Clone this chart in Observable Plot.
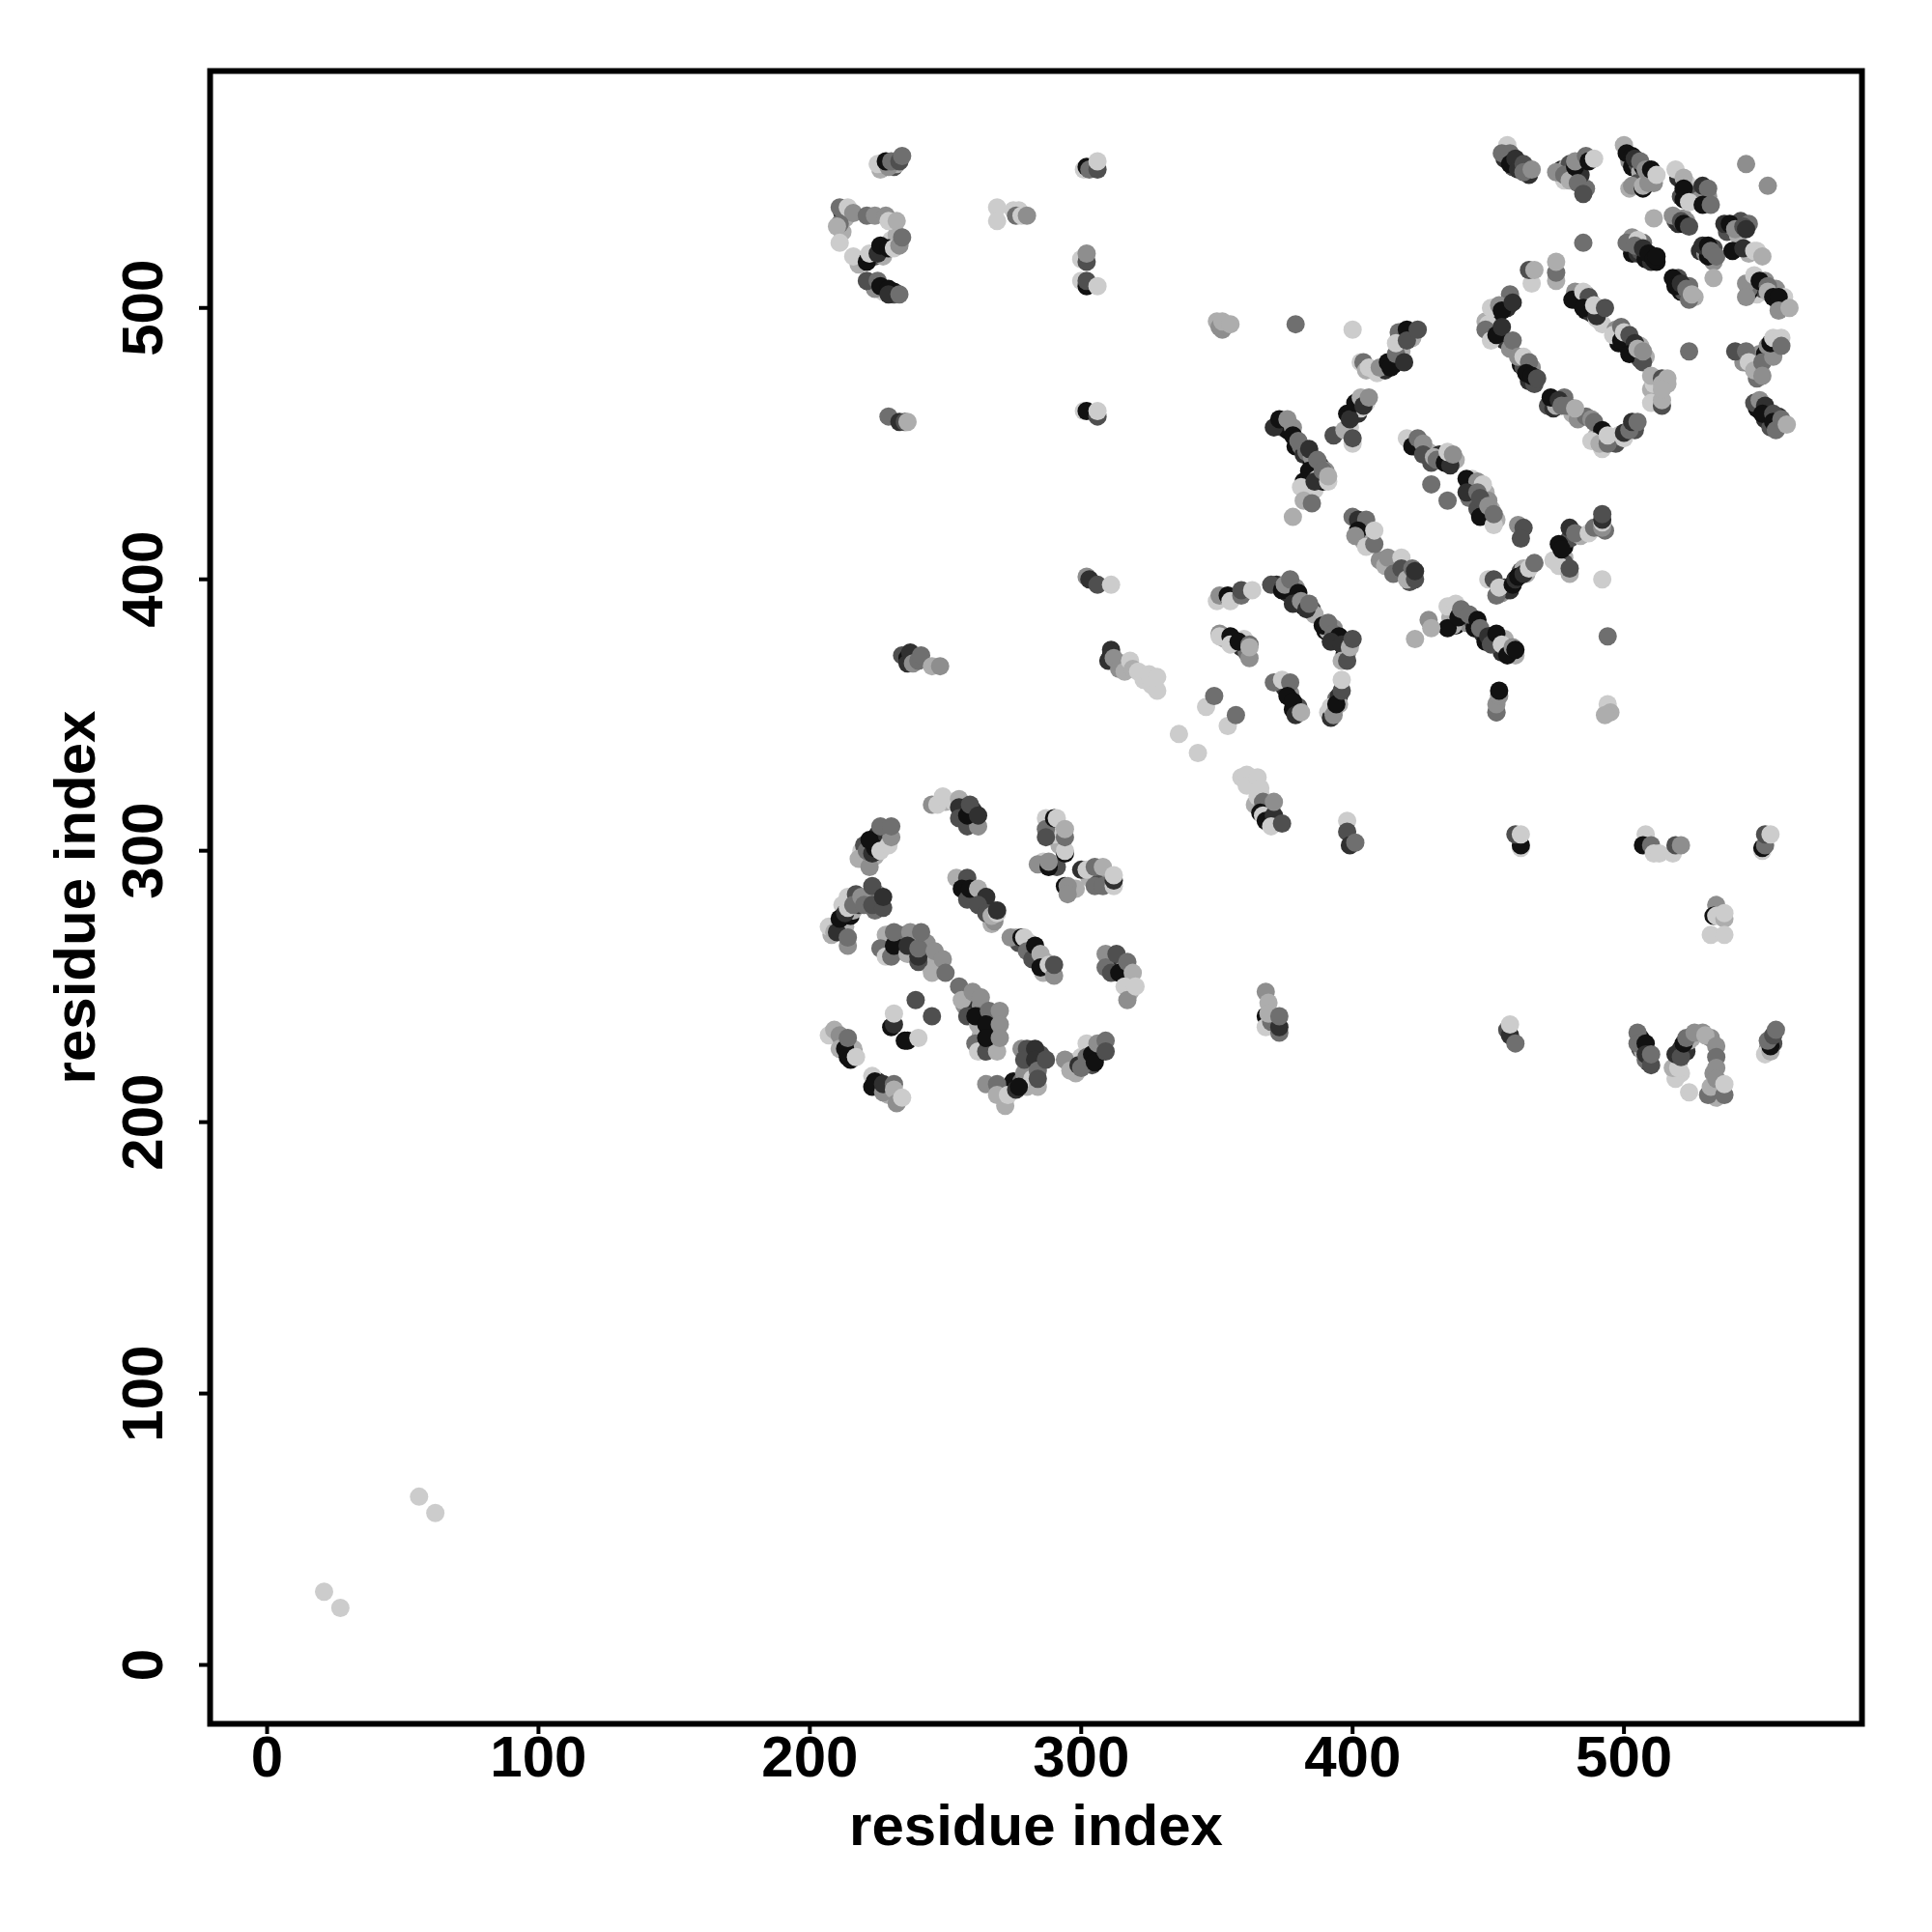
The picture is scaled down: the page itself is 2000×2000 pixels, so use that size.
<!DOCTYPE html>
<html>
<head>
<meta charset="utf-8">
<script src="https://cdn.jsdelivr.net/npm/d3@7"></script>
<script src="https://cdn.jsdelivr.net/npm/@observablehq/plot@0.6"></script>
<style>
html,body{margin:0;padding:0;background:#fff}
svg{display:block;font-family:"Liberation Sans",Arial,sans-serif}
</style>
</head>
<body>
<div id="chart"></div>
<script>
// Each contact: [residue i, residue j, shade level 1 (dark) .. 7 (light)]
const tickValues = [0, 100, 200, 300, 400, 500];
const axisTitle = "residue index";

const lowLeft = [[21,27,7],[27,21,7],[56,62,7],[62,56,7]];
const c1 = [[218,297,6],[222,294,5],[221,300,4],[223,299,2],[224,301,1],[222,304,1],[226,300,7],[229,302,7],[230,305,5],[226,309,4],[230,309,4]];
const c2 = [[245,317,5],[247,317,7],[249,320,7],[255,319,6],[255,316,2],[255,312,3],[258,309,3],[262,309,5],[258,313,1],[259,317,3],[262,313,2]];
const c3 = [[287,312,7],[287,308,4],[287,305,3],[290,312,1],[291,312,7],[294,299,1],[294,300,7],[294,305,4],[294,308,6],[284,295,5],[288,294,1],[288,296,5],[294,287,1],[295,287,5],[295,284,5],[300,293,2],[302,293,7],[305,294,4],[308,294,6],[305,287,4],[308,287,4],[312,287,7],[312,289,2],[312,291,7]];
const c4 = [[254,290,6],[258,290,3],[256,286,1],[258,282,3],[259,286,1],[262,286,6],[265,283,2],[262,280,3],[265,277,3],[268,274,5],[267,276,6],[269,277,7],[269,278,2]];
const c5 = [[274,268,5],[278,268,1],[279,268,7],[280,263,4],[282,260,3],[283,265,1],[285,262,6],[285,257,1],[288,258,7],[290,254,5],[290,258,3]];
const c6 = [[309,262,5],[309,257,4],[311,255,3],[313,262,3],[314,255,1],[317,259,4],[319,255,6],[316,250,7],[317,245,5],[320,250,7]];
const c7 = [[207,272,7],[209,270,6],[210,270,2],[214,265,5],[214,268,4],[211,275,1],[213,277,2],[214,279,7],[214,283,7],[217,284,3],[216,280,4],[219,283,5],[220,280,4],[223,280,3],[223,287,3],[227,279,3],[227,283,2]];
const c8 = [[228,269,6],[226,264,4],[228,261,7],[230,261,4],[231,265,1],[231,270,4],[236,262,6],[237,270,5],[236,265,2],[240,259,3],[240,261,2],[240,264,4],[241,270,4],[246,263,5],[245,255,6],[249,260,5],[250,255,4]];
const c9 = [[255,250,4],[256,245,6],[260,248,5],[263,246,5],[258,239,3],[262,239,3],[262,236,6],[261,239,1],[266,241,4],[265,236,1],[270,241,5],[270,236,5],[261,229,4],[262,226,7],[265,226,3],[269,226,6],[265,231,1],[270,231,5]];
const c10 = [[239,245,3],[245,239,3],[230,235,1],[231,236,2],[231,240,7],[235,230,1],[236,230,1],[240,231,7]];
const c11 = [[207,232,7],[209,234,6],[211,232,5],[211,227,6],[213,227,1],[214,231,4],[214,224,1],[215,223,1],[217,224,7]];
const c12 = [[223,217,7],[223,213,1],[224,215,1],[227,211,5],[227,214,2],[231,214,4],[231,212,6],[232,207,5],[234,209,7]];
const c13 = [[265,214,5],[269,214,4],[269,210,6],[272,206,6],[273,210,7],[276,212,2],[277,213,1],[278,227,5],[280,227,3],[279,223,3],[283,227,2],[283,223,2],[284,219,4],[284,213,6],[284,216,3],[287,223,3]];
const c14 = [[294,223,5],[296,219,6],[299,221,2],[300,220,4],[302,229,7],[302,224,4],[304,225,1],[305,222,1],[306,229,5],[309,230,4],[309,226,3]];
const c15 = [[225,553,7],[229,552,5],[228,554,1],[230,554,4],[233,554,3],[234,556,4]];
const c16 = [[211,537,4],[214,537,7],[216,535,5],[211,531,4],[210,530,6],[211,524,7],[216,519,7],[221,534,4],[224,534,5],[228,534,5],[229,532,7],[232,532,6],[221,517,1],[222,520,7],[225,520,2],[226,523,1],[229,522,1],[231,522,7],[233,523,5],[234,526,4]];
const c17 = [[221,510,3],[225,510,4],[226,508,1],[229,507,1],[229,505,2],[233,505,4]];
const c18 = [[269,537,7],[269,532,7],[275,536,7],[277,536,7],[276,534,4],[278,534,7],[280,534,5]];
const c19 = [[301,551,7],[302,552,1],[303,551,4],[306,551,3],[306,554,7]];
const c20 = [[300,518,7],[302,517,3],[302,520,5],[300,510,7],[302,508,1],[302,510,3],[306,508,7]];
const c21 = [[229,460,4],[233,458,2],[235,458,3],[236,458,6]];
const c22 = [[301,462,7],[302,462,1],[306,460,3],[306,462,7]];
const c23 = [[302,401,5],[303,400,2],[306,398,3],[311,398,7]];
const c24 = [[234,372,3],[236,371,1],[236,369,2],[237,373,2],[238,369,5],[240,370,4],[241,372,4],[245,368,6],[248,368,5]];
const c25 = [[310,370,2],[311,374,2],[312,371,5],[314,367,5],[316,366,6],[318,370,7],[319,367,6],[321,366,7],[323,363,7],[325,365,7],[326,361,7],[328,359,7],[328,364,7]];
const c26 = [[336,343,7],[343,336,7],[346,353,7],[349,357,4],[354,346,7],[357,350,4]];
const c27 = [[359,327,7],[361,328,7],[361,324,7],[365,327,7],[366,323,7],[365,320,7],[367,318,4],[366,314,1],[367,313,7],[368,311,1],[371,313,2],[371,318,5],[370,309,7],[374,310,3]];
const c28 = [[398,311,7],[398,307,3],[399,302,2],[401,303,4]];
const c29 = [[462,301,7],[462,302,1],[460,306,3],[462,306,7]];
const c30 = [[508,306,7],[507,302,1],[510,302,4],[511,299,7],[513,299,7],[518,299,7],[519,302,3],[521,302,5]];
const c31 = [[551,300,7],[551,301,1],[552,302,4],[552,306,3],[554,306,7]];
const c32 = [[534,280,5],[533,276,1],[534,276,7],[537,275,6],[537,277,7],[532,269,7],[537,269,7]];
const c33 = [[368,248,5],[369,244,6],[368,239,1],[368,235,7],[370,237,4],[369,240,6],[373,233,4],[373,235,2],[373,239,4]];
const c34 = [[457,234,3],[458,232,2],[458,236,7],[460,229,4]];
const c35 = [[505,233,4],[505,229,4],[508,229,1],[508,225,2],[510,221,3],[510,225,4]];
const c36 = [[519,216,7],[524,211,7],[518,220,6],[520,220,7],[519,225,2],[521,224,3],[522,229,1],[523,231,4],[526,233,5],[530,232,6],[531,210,4],[532,213,6],[537,210,4],[534,228,5],[534,224,4],[534,220,5],[534,216,5],[537,214,7]];
const c37 = [[552,225,7],[554,226,6],[554,228,1],[553,230,4],[555,232,3],[556,234,4]];
const c39 = [[457,560,7],[455,557,4],[458,557,4],[458,553,1],[460,555,2],[461,551,2],[463,553,3],[463,550,4],[466,551,5]];
const c40 = [[475,550,5],[478,549,4],[480,547,6],[482,552,1],[482,554,5],[486,556,4],[487,554,1],[489,555,7],[483,546,4],[485,542,3]];
const c41 = [[500,560,6],[501,557,1],[503,556,1],[504,555,2],[506,554,4],[503,545,5],[507,544,1],[507,545,6],[509,546,5],[508,551,5],[510,551,1],[512,549,7]];
const c42 = [[519,551,7],[522,548,6],[522,544,1],[522,540,1],[524,539,7]];
const c43 = [[529,545,2],[531,544,4],[529,538,1],[532,538,4]];
const c44 = [[545,553,5],[553,545,5],[511,533,6]];
const c45 = [[518,534,5],[521,532,3],[522,531,1],[524,530,3]];
const c46 = [[537,531,2],[539,531,1],[541,529,5],[544,530,3],[545,529,2]];
const c47 = [[529,523,2],[531,523,1],[532,521,4],[534,519,4]];
const c48 = [[540,521,1],[544,522,2],[548,521,7],[551,519,6],[485,524,4]];
const c49 = [[501,524,4],[505,525,7],[504,523,4],[507,522,2],[509,520,1],[511,518,1],[512,519,1]];
const c50 = [[518,511,1],[519,508,1],[521,509,2],[523,507,4],[524,503,4],[525,505,6],[533,511,6]];
const c51 = [[545,509,5],[545,504,5],[548,512,7],[550,510,1],[553,508,4],[553,506,6],[555,504,1],[557,504,1],[557,499,5],[561,500,6]];
const c52 = [[466,509,7],[465,514,3],[467,514,6],[475,510,6],[475,513,4],[475,517,6]];
const c53 = [[458,505,4],[451,500,7],[454,501,5],[455,499,1],[459,502,2]];
const c54 = [[450,494,7],[449,492,4],[451,488,7],[453,490,1],[455,493,2],[459,488,4]];
const c55 = [[461,482,5],[463,482,7],[465,480,4],[464,476,1],[466,475,1],[468,474,3]];
const c56 = [[473,467,1],[476,466,2],[477,464,4],[479,464,4],[482,463,6]];
const c57 = [[488,459,5],[489,458,4],[492,455,1],[488,451,7],[491,450,6],[494,450,4],[494,453,7],[500,452,7],[500,454,2],[502,455,4],[503,458,2],[505,458,4]];
const c58 = [[482,506,5],[481,503,1],[485,506,7],[487,504,3],[485,500,1],[490,496,7],[490,497,2],[489,501,7],[493,500,3]];
const c59 = [[496,490,7],[499,493,4],[499,488,1],[500,491,7],[502,490,3],[504,487,2],[502,483,1],[507,480,3],[505,485,6],[507,484,5]];
const c60 = [[510,475,6],[514,474,3],[514,472,6],[516,474,6],[510,465,7],[514,464,3],[514,466,6],[514,470,6],[524,484,4]];
const c61 = [[541,484,3],[545,484,4],[546,480,7],[548,477,6],[551,480,4],[551,475,5],[555,482,5],[554,487,1],[555,489,7],[558,489,7],[558,486,4]];
const c62 = [[548,465,3],[550,466,5],[552,464,2],[551,461,1],[555,461,3],[555,458,1],[556,455,4],[558,459,4],[560,457,6]];
const c63 = [[351,493,5],[352,495,6],[355,494,6],[379,494,4],[400,492,7]];
const c64 = [[403,480,7],[404,480,4],[405,477,6],[406,478,7],[408,477,7],[410,478,5],[413,480,1],[414,478,1],[416,483,4],[419,480,2],[417,491,4],[416,487,7],[420,492,1],[420,488,3],[424,492,3]];
const c65 = [[393,453,3],[397,455,6],[398,461,1],[399,459,2],[401,465,1],[403,467,6],[404,464,2],[406,467,5],[400,450,7],[400,452,3]];
const c66 = [[371,456,2],[373,459,1],[376,459,5],[378,453,1],[380,451,4],[382,436,1],[381,434,7],[384,448,2],[386,436,2],[387,444,4],[389,440,4],[391,436,7],[391,438,6]];
const c67 = [[378,423,6],[382,429,6],[385,428,4]];
const c68 = [[420,452,7],[422,449,1],[424,452,4],[426,450,5],[426,446,3],[430,445,6],[431,444,4],[434,443,1],[436,442,2],[435,447,7],[437,446,5]];
const c69 = [[429,435,4],[435,429,4]];
const c70 = [[442,437,1],[446,436,5],[448,435,7],[442,432,2],[446,432,4],[450,429,5]];
const c71 = [[447,423,1],[447,430,3],[450,427,5],[452,420,7],[452,424,4]];
const c72 = [[461,420,5],[463,419,3],[462,415,3]];
const c73 = [[400,423,4],[402,422,2],[405,422,4],[402,418,1],[401,416,5],[405,412,7],[408,413,4],[408,418,7]];
const c74 = [[412,405,6],[413,408,5],[418,408,7],[415,402,4],[418,404,3],[420,400,6],[422,404,4],[423,400,3],[423,403,2]];
const c75 = [[350,392,7],[351,394,5],[354,394,1],[355,392,7],[359,394,4],[359,396,3],[363,396,7]];
const c76 = [[370,398,3],[374,396,1],[375,398,5],[377,400,4],[380,395,1],[378,391,2],[381,392,5],[383,389,2],[384,391,4]];
const c77 = [[389,383,1],[391,384,4],[393,380,4],[395,379,1],[392,377,2],[396,376,2],[396,370,6],[398,370,3],[399,375,6],[400,378,3]];
const c78 = [[351,380,5],[351,379,7],[355,379,1],[355,376,7],[358,377,1],[362,371,5],[362,376,4],[362,375,6]];
const c79 = [[371,362,4],[374,363,7],[377,362,4],[376,357,1],[378,355,1],[379,350,2],[381,351,6]];
const c80 = [[392,349,2],[392,353,7],[393,350,5],[394,354,1],[396,359,3],[396,363,7]];
const c81 = [[453,351,6],[453,351,4],[453,354,5],[454,357,5],[454,359,1]];
const c82 = [[494,379,4],[492,400,7],[494,354,7],[495,351,6],[493,350,6]];
const c83 = [[435,390,7],[438,391,7],[437,383,6],[435,382,1],[439,386,1],[440,389,4],[443,387,4],[446,385,1],[447,382,4],[450,379,2],[451,376,3],[453,380,1],[455,376,7],[457,372,1],[459,375,5],[460,374,1]];
const c84 = [[428,385,5],[429,382,6],[423,378,6]];
const c85 = [[450,400,7],[452,400,3],[453,394,4],[454,397,7],[459,398,1],[460,400,2],[461,401,1],[463,402,2],[465,404,7],[467,406,4]];
const c86 = [[476,405,7],[480,402,6],[480,404,3],[476,413,1],[477,411,1],[480,419,2],[482,417,4],[487,417,7],[489,419,4],[492,419,5],[492,421,7],[492,422,2],[492,424,3]];

// Further contacts read inside the thick bands of the helix pairs
const lowerDomainBands = [[219,300,7],[220,302,3],[224,298,6],[226,303,4],[228,306,5],[225,306,2],[221,296,7],[257,316,1],[257,312,7],[260,311,4],[260,315,2],[261,311,6],[250,318,6],[253,318,7],[288,310,3],[292,306,7],[292,302,6],[290,306,7],[286,296,7],[291,294,3],[298,286,6],[303,290,6],[307,290,3],[310,288,5],[257,288,2],[260,284,3],[261,283,1],[263,284,6],[264,280,1],[266,279,5],[267,273,6],[276,268,6],[277,266,3],[281,266,7],[284,261,2],[287,256,1],[286,255,6],[282,264,5],[287,259,6],[311,259,1],[312,258,5],[315,258,2],[316,257,5],[318,253,7],[318,248,6],[208,269,6],[212,272,1],[213,272,6],[215,276,1],[216,278,6],[218,280,2],[221,283,4],[225,284,5],[224,278,4],[212,280,7],[229,266,3],[233,266,5],[234,263,6],[233,269,4],[238,267,4],[238,263,3],[242,260,1],[243,266,5],[244,258,6],[247,257,6],[257,243,5],[259,244,4],[260,241,2],[263,243,5],[264,238,2],[267,238,5],[268,234,2],[267,228,4],[263,232,6],[212,230,4],[216,226,1],[216,227,6],[225,215,2],[229,212,6],[229,210,6],[271,212,7],[274,212,5],[275,215,1],[278,215,4],[279,218,5],[281,224,1],[285,225,3],[280,213,6],[282,216,7],[270,211,5],[298,218,6],[297,222,7],[303,222,1],[306,225,1],[304,221,3],[300,224,7],[307,227,2]];
const upperLeftBands = [[212,535,2],[213,533,6],[212,528,6],[224,519,3],[227,519,6],[230,525,7],[232,527,6],[218,516,6],[223,509,1],[227,506,7],[231,506,1],[231,505,3],[224,507,5],[226,551,6],[231,552,3],[232,553,6]];
const middleBands = [[313,369,7],[311,372,1],[315,369,6],[362,326,7],[366,321,7],[364,317,6],[368,316,7],[370,311,6],[369,314,5],[409,476,7],[412,477,2],[415,479,1],[417,481,3],[418,484,6],[419,490,7],[422,489,6],[418,491,2],[402,461,2],[403,463,7],[399,456,7],[402,465,2],[405,465,7],[374,456,3],[376,455,1],[378,456,5],[379,449,1],[381,449,4],[382,446,2],[383,447,4],[385,443,1],[385,445,5],[388,442,3],[384,440,1],[387,437,7],[390,440,5],[384,434,6],[386,433,7],[389,436,1],[423,450,2],[425,448,1],[428,447,6],[429,443,3],[432,446,2],[433,444,5],[434,446,1],[436,444,1],[438,444,6],[444,434,2],[444,437,7],[443,430,4],[448,427,1],[449,432,6],[451,426,6],[446,426,3],[453,422,6],[403,420,3],[403,416,2],[404,414,6],[406,417,5],[405,419,6],[410,407,5],[415,405,7],[416,403,2],[421,402,5],[421,399,3],[372,398,2],[376,395,2],[378,396,3],[379,397,5],[382,390,1],[385,389,3],[386,387,6],[390,381,1],[391,381,6],[394,378,5],[396,378,1],[398,376,3],[397,372,1],[398,373,5],[393,382,5],[353,378,6],[356,377,4],[359,375,2],[361,373,4],[360,378,7],[375,360,2],[377,358,5],[378,352,1],[380,353,3],[394,356,4],[395,357,2],[391,351,7],[395,354,6],[437,388,2],[436,386,6],[438,383,1],[441,385,2],[442,384,5],[444,385,3],[445,382,1],[448,380,2],[449,377,1],[452,378,3],[454,376,1],[455,373,2],[456,378,6],[458,373,3],[457,375,5],[460,372,6],[455,395,5],[456,397,1],[457,397,3],[458,396,2],[462,403,3],[463,404,6],[464,402,6],[474,407,7],[478,408,6],[478,412,1],[480,415,3],[484,416,6],[478,406,3],[490,419,6],[493,418,4],[371,236,1],[371,238,5],[350,495,6],[352,492,5]];
const upperRightBands = [[456,555,2],[459,552,3],[460,553,6],[462,551,5],[464,552,6],[465,549,2],[477,551,2],[479,552,6],[480,553,3],[483,548,6],[478,547,7],[486,544,4],[484,549,2],[502,554,5],[503,552,1],[505,553,3],[506,550,6],[507,552,1],[509,549,4],[511,548,5],[505,546,3],[511,546,5],[502,544,6],[520,548,2],[523,546,7],[524,543,6],[521,541,3],[527,542,3],[530,541,1],[531,541,5],[528,540,5],[519,532,3],[520,531,2],[522,533,5],[523,532,5],[538,528,3],[540,530,4],[542,527,6],[543,532,3],[546,531,4],[528,521,2],[530,520,5],[533,517,5],[533,522,3],[531,519,1],[546,520,6],[549,521,7],[503,520,1],[505,520,2],[506,521,3],[508,518,1],[510,517,2],[503,526,5],[507,524,4],[512,517,1],[520,511,3],[521,506,1],[522,506,3],[524,508,4],[526,504,6],[519,510,1],[549,505,7],[551,507,3],[552,510,5],[554,507,2],[556,507,5],[557,502,1],[559,501,3],[559,504,7],[546,506,1],[546,507,4],[452,497,6],[453,494,1],[457,500,2],[454,491,5],[449,495,6],[451,491,7],[456,488,2],[458,485,5],[462,479,1],[463,478,3],[466,478,5],[465,473,2],[467,472,3],[472,464,3],[474,463,2],[475,464,6],[478,467,4],[481,461,6],[483,459,5],[486,460,4],[490,453,6],[491,452,2],[493,451,1],[492,448,7],[496,451,7],[497,450,3],[498,453,7],[504,455,3],[483,504,1],[484,502,3],[486,499,1],[488,498,2],[488,502,5],[491,499,4],[486,505,6],[492,494,7],[497,492,5],[498,487,1],[501,486,1],[501,488,6],[503,484,3],[505,483,2],[506,481,3],[506,486,6],[508,482,6],[511,474,5],[516,472,6],[513,468,6],[510,470,6],[511,472,7],[544,480,5],[547,482,6],[549,478,2],[550,483,5],[552,483,1],[553,486,5],[549,474,4],[547,479,4],[549,463,1],[552,459,2],[553,461,4],[554,456,3],[557,458,6],[557,460,2],[556,456,5],[520,222,1],[521,227,2],[522,228,4],[523,226,2],[524,230,6],[525,231,6],[529,233,5],[532,231,5],[533,212,3],[535,211,3],[534,209,6],[533,218,5],[521,218,7],[506,231,1],[506,227,3],[509,222,2],[508,223,4],[507,226,6],[555,229,3],[553,227,5]];

const base = [lowLeft,c1,c2,c3,c4,c5,c6,c7,c8,c9,c10,c11,c12,c13,c14,c15,c16,c17,c18,c19,c20,c21,c22,c23,c24,c25,c26,c27,c28,c29,c30,c31,c32,c33,c34,c35,c36,c37,c39,c40,c41,c42,c43,c44,c45,c46,c47,c48,c49,c50,c51,c52,c53,c54,c55,c56,c57,c58,c59,c60,c61,c62,c63,c64,c65,c66,c67,c68,c69,c70,c71,c72,c73,c74,c75,c76,c77,c78,c79,c80,c81,c82,c83,c84,c85,c86].flat();
const bands = [lowerDomainBands, upperLeftBands, middleBands, upperRightBands].flat();
// Band contacts lie beneath the ones seen on top in the reference.
const contacts = [...bands, ...base];

const chart = Plot.plot({
  width: 2000,
  height: 2000,
  marginLeft: 217,
  marginRight: 73,
  marginTop: 73,
  marginBottom: 216,
  style: {background: "#fff", fontFamily: "'Liberation Sans',Arial,sans-serif", overflow: "visible"},
  x: {domain: [-21, 587.7]},
  y: {domain: [-21.7, 587.3]},
  color: {type: "linear", domain: [1, 7], range: ["#111111", "#cccccc"]},
  marks: [
    Plot.dot(contacts, {x: d => d[0], y: d => d[1], fill: d => d[2], r: 9.5}),
    Plot.frame({stroke: "#000", strokeWidth: 6}),
    Plot.axisX({ticks: tickValues, tickSize: 11, tickPadding: 1, fontSize: 60, fontWeight: "bold", strokeWidth: 4, stroke: "#000", fill: "#000",
      label: axisTitle, labelAnchor: "center", labelArrow: "none", labelOffset: 125}),
    Plot.axisY({ticks: tickValues, tickSize: 11, tickPadding: 39, fontSize: 60, fontWeight: "bold", strokeWidth: 4, stroke: "#000", fill: "#000", tickRotate: -90,
      label: axisTitle, labelAnchor: "center", labelArrow: "none", labelOffset: 162})
  ]
});
document.getElementById("chart").appendChild(chart);
</script>
</body>
</html>
